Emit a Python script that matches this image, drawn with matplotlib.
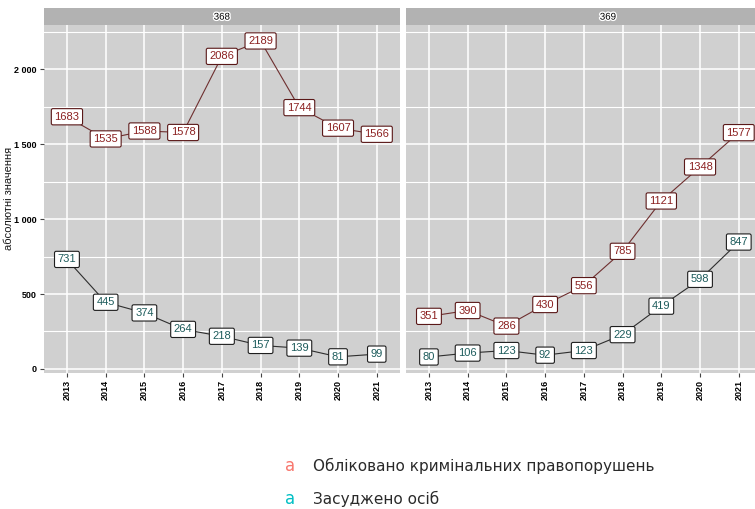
import matplotlib
matplotlib.use('Agg')
import matplotlib.pyplot as plt
from matplotlib.ticker import FixedLocator, FuncFormatter
import matplotlib.patheffects as pe

years = [2013, 2014, 2015, 2016, 2017, 2018, 2019, 2020, 2021]
panels = ['368', '369']

recorded_368 = [1683, 1535, 1588, 1578, 2086, 2189, 1744, 1607, 1566]
convicted_368 = [731, 445, 374, 264, 218, 157, 139, 81, 99]
recorded_369 = [351, 390, 286, 430, 556, 785, 1121, 1348, 1577]
convicted_369 = [80, 106, 123, 92, 123, 229, 419, 598, 847]

series_names = ['Обліковано кримінальних правопорушень', 'Засуджено осіб']
key_colors = ['#F8766D', '#00BFC4']
line_colors = ['#6e2f2f', '#2e2e2e']
text_colors = ['#8b2020', '#1d5c5c']
edge_colors = ['#5a1818', '#1e1e1e']

plt.rcParams['font.family'] = ['Liberation Sans', 'DejaVu Sans']

W, H = 755, 509
fig = plt.figure(figsize=(W / 100, H / 100), dpi=100)
fig.patch.set_facecolor('white')


def fx(px):
    return px / W


def fy(py):
    return 1 - py / H


panel_top, panel_bot = 25.2, 372.7
panel_x = [(43.7, 400.0), (405.7, 762.0)]
data = [(recorded_368, convicted_368), (recorded_369, convicted_369)]

for i, (name, (x0, x1)) in enumerate(zip(panels, panel_x)):
    ax = fig.add_axes([fx(x0), fy(panel_bot), fx(x1 - x0), fy(panel_top) - fy(panel_bot)])
    ax.set_facecolor('#d0d0d0')
    for s in ax.spines.values():
        s.set_visible(False)
    xs = list(range(len(years)))
    ax.set_xlim(-0.6, len(years) - 1 + 0.6)
    ax.set_ylim(-25, 2294)
    ax.yaxis.set_major_locator(FixedLocator([0, 500, 1000, 1500, 2000]))
    ax.yaxis.set_minor_locator(FixedLocator([250, 750, 1250, 1750, 2250]))
    ax.set_xticks(xs)
    ax.set_xticklabels([str(y) for y in years], rotation=90, fontsize=6.5, fontweight='bold')
    ax.grid(True, which='major', color='white', linewidth=1.1)
    ax.grid(True, which='minor', axis='y', color='white', linewidth=0.8)
    ax.set_axisbelow(True)
    ax.tick_params(axis='both', which='major', length=3, color='#444444', pad=2)
    ax.tick_params(axis='y', which='minor', length=0)
    if i == 0:
        ax.yaxis.set_major_formatter(FuncFormatter(lambda v, p: f"{int(v):,}".replace(',', ' ')))
        ax.tick_params(axis='y', labelsize=6.5)
        for t in ax.get_yticklabels():
            t.set_fontweight('bold')
    else:
        ax.tick_params(axis='y', left=False, labelleft=False)

    for k, vals in enumerate(data[i]):
        ax.plot(xs, vals, color=line_colors[k], linewidth=0.8, zorder=2)
        for x, v in zip(xs, vals):
            ax.text(x, v, str(v), ha='center', va='center', fontsize=8,
                    color=text_colors[k], zorder=3,
                    bbox=dict(boxstyle='round,pad=0.28,rounding_size=0.15',
                              fc='white', ec=edge_colors[k], lw=0.8))

    # facet strip
    sx = fig.add_axes([fx(x0), fy(25.2), fx(x1 - x0), fy(8) - fy(25.2)])
    sx.set_facecolor('#b2b2b2')
    sx.set_xticks([])
    sx.set_yticks([])
    for s in sx.spines.values():
        s.set_visible(False)
    sx.text(0.5 if i == 0 else (608 - x0) / (x1 - x0), 0.5, name, transform=sx.transAxes,
            ha='center', va='center', fontsize=7, color='black',
            path_effects=[pe.withStroke(linewidth=2, foreground='white')])

fig.text(fx(9.5), fy(198), 'абсолютні значення', rotation=90, fontsize=8,
         ha='center', va='center', color='#1a1a1a')

# legend
for k, (lab, col) in enumerate(zip(series_names, key_colors)):
    y = 466 + k * 33
    fig.text(fx(290), fy(y), 'a', color=col, fontsize=12, ha='center', va='center',
             family='DejaVu Sans')
    fig.text(fx(313), fy(y), lab, color='#2a2a2a', fontsize=11, ha='left', va='center',
             family='DejaVu Sans')

fig.savefig('out.png', dpi=100)
